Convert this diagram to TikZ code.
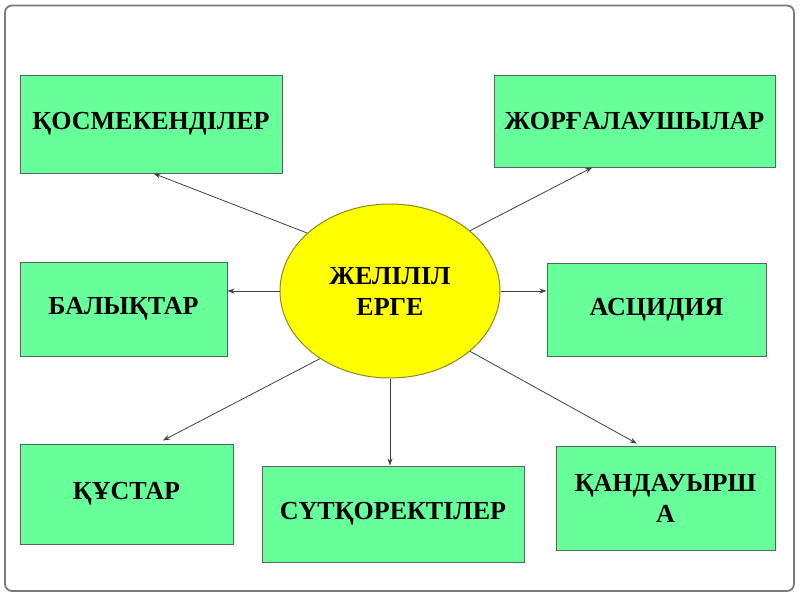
\documentclass[tikz,border=0pt]{standalone}
\usepackage{fontspec}
\setmainfont{Liberation Serif}
\usetikzlibrary{arrows.meta,calc,shapes.geometric}
\definecolor{boxgreen}{HTML}{66FF99}
\definecolor{boxline}{HTML}{4F6A58}
\definecolor{ellfill}{HTML}{FFFF00}
\definecolor{ellline}{HTML}{8A8A20}
\definecolor{arrowc}{HTML}{404040}
\definecolor{framec}{HTML}{7A7A7A}
\begin{document}
\begin{tikzpicture}[x=1pt,y=-1pt,
  box/.style={rectangle, draw=boxline, fill=boxgreen, line width=1pt, inner sep=0pt,
    font=\bfseries\fontsize{26}{31}\selectfont, align=center},
  hub/.style={ellipse, draw=ellline, fill=ellfill, line width=1pt, inner sep=0pt,
    font=\bfseries\fontsize{26}{31}\selectfont, align=center},
  conn/.style={draw=arrowc, line width=0.8pt, -{Stealth[length=7pt,width=5pt]}}]
\useasboundingbox (0,0) rectangle (800,600);
\draw[rounded corners=7pt, draw=framec, line width=1.8pt] (5,5.5) rectangle (794,591);

\node[hub, minimum width=220pt, minimum height=174pt] (ell) at (390,291) {ЖЕЛІЛІЛ\\ЕРГЕ};

\node[box, minimum width=262pt, minimum height=98pt] (kos) at (151,124) {ҚОСМЕКЕНДІЛЕР};
\node[box, minimum width=281pt, minimum height=92pt] (jor) at (634.5,121) {ЖОРҒАЛАУШЫЛАР};
\node[box, minimum width=207pt, minimum height=94pt] (bal) at (123.5,309) {БАЛЫҚТАР};
\node[box, minimum width=219pt, minimum height=93pt] (asc) at (656.5,309.5) {АСЦИДИЯ};
\node[box, minimum width=213pt, minimum height=100pt] (kus) at (126.5,494) {ҚҰСТАР};
\node[box, minimum width=262pt, minimum height=96pt] (sut) at (393,514) {СҮТҚОРЕКТІЛЕР};
\node[box, minimum width=219pt, minimum height=104pt] (kan) at (665.5,498) {ҚАНДАУЫРШ\\А};

\draw[conn] (ell.145) -- ($(kos.south west)!0.51!(kos.south east)$);
\draw[conn] (ell.37.5) -- ($(jor.south west)!0.35!(jor.south east)$);
\draw[conn] (ell.west) -- (ell.west -| bal.east);
\draw[conn] (ell.east) -- (ell.east -| asc.west);
\draw[conn] (ell.224.6) -- ($(kus.north west)!0.67!(kus.north east)+(0,-3)$);
\draw[conn] (ell.south) -- (ell.south |- sut.north);
\draw[conn] (ell.-37) -- ($(kan.north west)!0.37!(kan.north east)+(0,-2)$);
\end{tikzpicture}
\end{document}
